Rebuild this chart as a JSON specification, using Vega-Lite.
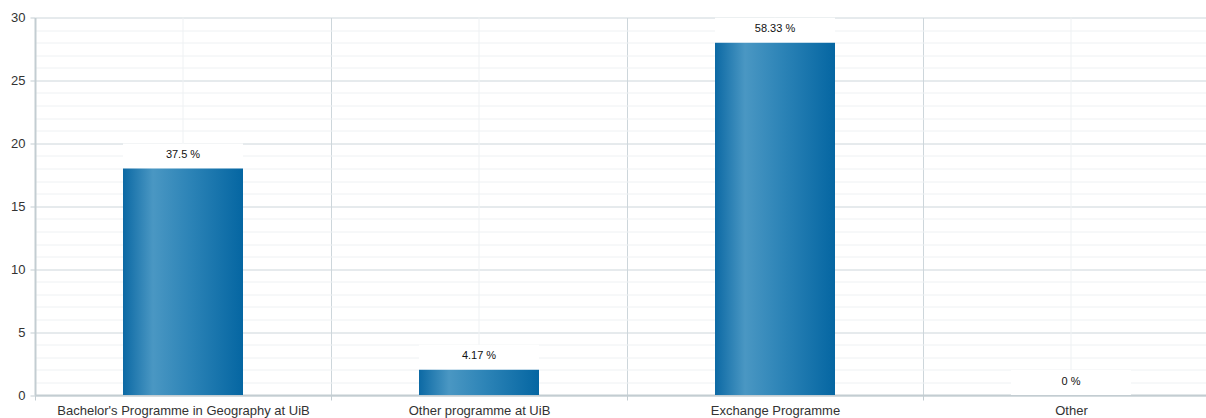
{
  "$schema": "https://vega.github.io/schema/vega-lite/v6.json",
  "width": 1171,
  "height": 377.5,
  "autosize": "none",
  "padding": {"left": 35, "top": 17.5, "right": 0, "bottom": 23},
  "background": "white",
  "config": {"view": {"stroke": null}, "font": "Liberation Sans"},
  "data": {
    "values": [
      {"category": "Bachelor's Programme in Geography at UiB", "value": 18, "label": "37.5 %"},
      {"category": "Other programme at UiB", "value": 2, "label": "4.17 %"},
      {"category": "Exchange Programme", "value": 28, "label": "58.33 %"},
      {"category": "Other", "value": 0, "label": "0 %"}
    ]
  },
  "encoding": {
    "x": {"field": "category", "type": "nominal", "sort": null,
          "scale": {"range": [0, 1184], "paddingInner": 0, "paddingOuter": 0},
          "axis": {
            "title": null,
            "labelAngle": 0,
            "labelLimit": 0,
            "tickBand": "extent",
            "grid": true,
            "gridColor": "#cdd6db",
            "domainColor": "#c3cdd2",
            "domainWidth": 2,
            "tickColor": "#c3cdd2",
            "tickSize": 5,
            "labelPadding": 4,
            "labelFontSize": 13,
            "labelColor": "#333333",
            "labelFont": "Liberation Sans"
          }
    }
  },
  "layer": [
    {
      "mark": {"type": "rule", "color": "#eef1f3", "strokeWidth": 1},
      "encoding": {}
    },
    {
      "mark": {"type": "bar", "color": "white", "width": 120, "y2Offset": -25},
      "encoding": {
        "y": {"field": "value", "type": "quantitative", "scale": {"domain": [0, 30], "nice": false},
              "axis": {
                "title": null,
                "values": [0,1,2,3,4,5,6,7,8,9,10,11,12,13,14,15,16,17,18,19,20,21,22,23,24,25,26,27,28,29,30],
                "labelOverlap": false,
                "grid": true,
                "gridColor": {"condition": {"test": "datum.value % 5 === 0", "value": "#cdd6db"}, "value": "#eef1f3"},
                "tickColor": {"condition": {"test": "datum.value % 5 === 0", "value": "#c3cdd2"}, "value": "transparent"},
                "labelExpr": "datum.value % 5 === 0 ? datum.label : ''",
                "domainColor": "#c3cdd2",
                "domainWidth": 2,
                "tickSize": 5,
                "labelPadding": 5,
                "labelFontSize": 13,
                "labelColor": "#333333",
                "labelFont": "Liberation Sans"
              }
        },
        "y2": {"field": "value"}
      }
    },
    {
      "mark": {
        "type": "bar",
        "width": 120,
        "color": {
          "gradient": "linear",
          "x1": 0, "y1": 0, "x2": 1, "y2": 0,
          "stops": [
            {"offset": 0, "color": "#0c69a4"},
            {"offset": 0.25, "color": "#4a97c3"},
            {"offset": 0.55, "color": "#2d84b7"},
            {"offset": 1, "color": "#0566a2"}
          ]
        }
      },
      "encoding": {
        "y": {"field": "value", "type": "quantitative", "scale": {"domain": [0, 30], "nice": false},
              "axis": {
                "title": null,
                "values": [0,1,2,3,4,5,6,7,8,9,10,11,12,13,14,15,16,17,18,19,20,21,22,23,24,25,26,27,28,29,30],
                "labelOverlap": false,
                "grid": true,
                "gridColor": {"condition": {"test": "datum.value % 5 === 0", "value": "#cdd6db"}, "value": "#eef1f3"},
                "tickColor": {"condition": {"test": "datum.value % 5 === 0", "value": "#c3cdd2"}, "value": "transparent"},
                "labelExpr": "datum.value % 5 === 0 ? datum.label : ''",
                "domainColor": "#c3cdd2",
                "domainWidth": 2,
                "tickSize": 5,
                "labelPadding": 5,
                "labelFontSize": 13,
                "labelColor": "#333333",
                "labelFont": "Liberation Sans"
              }
        }
      }
    },
    {
      "mark": {"type": "text", "dy": -13.5, "baseline": "middle", "align": "center", "fontSize": 11, "color": "#111111", "font": "Liberation Sans"},
      "encoding": {
        "y": {"field": "value", "type": "quantitative", "scale": {"domain": [0, 30], "nice": false},
              "axis": {
                "title": null,
                "values": [0,1,2,3,4,5,6,7,8,9,10,11,12,13,14,15,16,17,18,19,20,21,22,23,24,25,26,27,28,29,30],
                "labelOverlap": false,
                "grid": true,
                "gridColor": {"condition": {"test": "datum.value % 5 === 0", "value": "#cdd6db"}, "value": "#eef1f3"},
                "tickColor": {"condition": {"test": "datum.value % 5 === 0", "value": "#c3cdd2"}, "value": "transparent"},
                "labelExpr": "datum.value % 5 === 0 ? datum.label : ''",
                "domainColor": "#c3cdd2",
                "domainWidth": 2,
                "tickSize": 5,
                "labelPadding": 5,
                "labelFontSize": 13,
                "labelColor": "#333333",
                "labelFont": "Liberation Sans"
              }
        },
        "text": {"field": "label"}
      }
    }
  ]
}
